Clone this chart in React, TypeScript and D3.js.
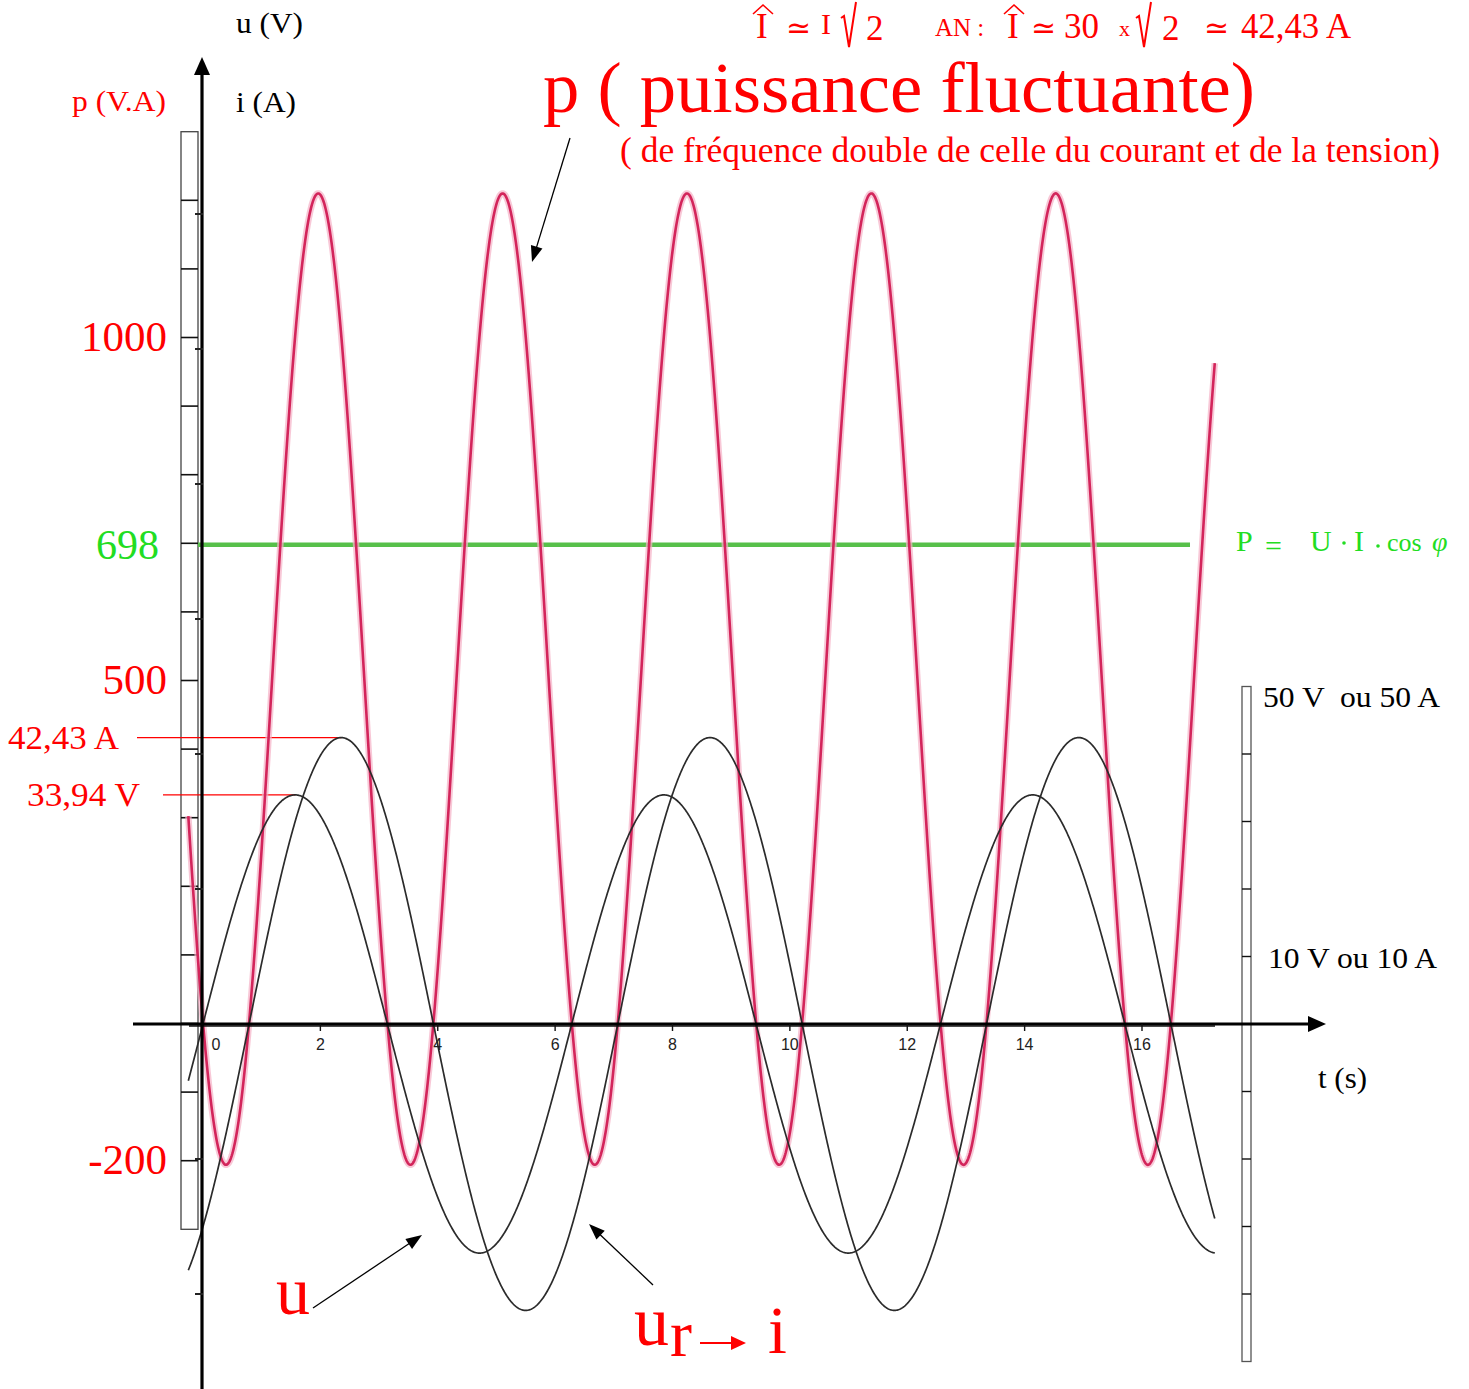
import React from "react";
import * as d3 from "d3";

// time axis graduations (s)
const tTicks = [0, 2, 4, 6, 8, 10, 12, 14, 16];
// power axis labels (V.A)
const pTickLabels = [1000, 500, -200];
const pAverage = 698;
// left ruler: one division = 100 V.A
const pRulerMin = -300;
const pRulerMax = 1300;
// right ruler: one division = 10 V or 10 A
const uiRulerMin = -50;
const uiRulerMax = 50;
// small ticks on the vertical axis, every 20 V / 20 A
const uiAxisTicks = [-40, -20, 20, 40, 60, 80, 100, 120];

// sinusoids (pulsation 1 rad/s)
const waveNames = ["u", "i"];
const waveAmplitudes = [33.94, 42.43];
const wavePhases = [0, 0.785];
const waveUnits = ["V", "A"];
// fluctuating power p = pMean - pAmplitude * cos(2t - phi)
const pMean = 502;
const pAmplitude = 708;
const pPhase = 0.785;
const tStart = -0.25;
const tEnd = 17.25;

const RED = "#ff0000";
const GREEN = "#22dd22";
const SERIF = "'Liberation Serif', 'DejaVu Serif', serif";
const SANS = "'Liberation Sans', Arial, sans-serif";

const W = 1469;
const H = 1389;

// arrow line ending with a filled triangle
const arrowHead = (x1: number, y1: number, x2: number, y2: number, len = 16, half = 6) => {
  const a = Math.atan2(y2 - y1, x2 - x1);
  const bx = x2 - len * Math.cos(a);
  const by = y2 - len * Math.sin(a);
  const nx = -Math.sin(a) * half;
  const ny = Math.cos(a) * half;
  return `M${x2},${y2}L${bx + nx},${by + ny}L${bx - nx},${by - ny}Z`;
};

const Arrow = ({ x1, y1, x2, y2, color = "#000", width = 1.3, len = 16, half = 6 }: any) => {
  const a = Math.atan2(y2 - y1, x2 - x1);
  return (
    <g>
      <line x1={x1} y1={y1} x2={x2 - (len - 2) * Math.cos(a)} y2={y2 - (len - 2) * Math.sin(a)} stroke={color} strokeWidth={width} />
      <path d={arrowHead(x1, y1, x2, y2, len, half)} fill={color} />
    </g>
  );
};

const Sqrt = ({ x, top, bottom }: any) => (
  <path
    d={`M${x},${top + 16}L${x + 3},${top + 14}L${x + 8},${bottom}L${x + 15},${top}`}
    fill="none"
    stroke={RED}
    strokeWidth={2}
  />
);

const Hat = ({ x, y }: any) => (
  <path d={`M${x},${y + 9}L${x + 10},${y}L${x + 20},${y + 9}`} fill="none" stroke={RED} strokeWidth={1.6} />
);

export default function App() {
  const x = d3.scaleLinear().domain([0, 16]).range([203, 1142]);
  const yP = d3.scaleLinear().domain([0, 1000]).range([1023.5, 337.5]);
  const yU = d3.scaleLinear().domain([0, 50]).range([1024, 686.5]);

  const ts = d3.range(tStart, tEnd, 0.01);

  const wavePaths = waveNames.map((_, k) =>
    d3
      .line<number>()
      .x((t) => x(t))
      .y((t) => yU(waveAmplitudes[k] * Math.sin(t - wavePhases[k])))(ts)
  );
  const pPath = d3
    .line<number>()
    .x((t) => x(t))
    .y((t) => yP(pMean - pAmplitude * Math.cos(2 * t - pPhase)))(ts);

  const axisY = yU(0);
  const fmt = (v: number) => v.toFixed(2).replace(".", ",");
  const guideStart = [163, 137];
  const guideLabelX = [27, 8];
  const guideLabelW = [113, 111];

  return (
    <svg width={W} height={H} style={{ position: "absolute", left: 0, top: 0, background: "#fff" }}>
      {/* left ruler (p scale) */}
      <rect x={181} y={yP(pRulerMax)} width={17} height={yP(pRulerMin) - yP(pRulerMax)} fill="#fff" stroke="#444" strokeWidth={1.3} />
      {d3.range(pRulerMin + 100, pRulerMax, 100).map((v) => (
        <line key={v} x1={181} x2={198} y1={yP(v)} y2={yP(v)} stroke="#111" strokeWidth={1.6} />
      ))}

      {/* right ruler (u / i scale) */}
      <rect x={1242} y={yU(uiRulerMax)} width={9} height={yU(uiRulerMin) - yU(uiRulerMax)} fill="#fff" stroke="#555" strokeWidth={1.3} />
      {d3.range(uiRulerMin + 10, uiRulerMax, 10).map((v) => (
        <line key={v} x1={1242} x2={1251} y1={yU(v)} y2={yU(v)} stroke="#111" strokeWidth={1.4} />
      ))}

      {/* average power */}
      <line x1={198} x2={1190} y1={yP(pAverage)} y2={yP(pAverage)} stroke="#57c04a" strokeWidth={4.5} />

      {/* peak guides */}
      {waveNames.map((n, k) => (
        <g key={n}>
          <line
            x1={guideStart[k]}
            x2={x(wavePhases[k] + Math.PI / 2)}
            y1={yU(waveAmplitudes[k])}
            y2={yU(waveAmplitudes[k])}
            stroke={RED}
            strokeWidth={1.2}
          />
          <text
            x={guideLabelX[k]}
            y={yU(waveAmplitudes[k]) + 11.5}
            fontFamily={SERIF}
            fontSize={34}
            fill={RED}
            textLength={guideLabelW[k]}
            lengthAdjust="spacingAndGlyphs"
          >
            {fmt(waveAmplitudes[k])} {waveUnits[k]}
          </text>
        </g>
      ))}

      {/* curves */}
      <path d={pPath || ""} fill="none" stroke="#f5b0c6" strokeWidth={6.5} strokeOpacity={0.7} />
      <path d={pPath || ""} fill="none" stroke="#d3255b" strokeWidth={2.6} />
      {wavePaths.map((d, k) => (
        <path key={k} d={d || ""} fill="none" stroke="#2b2b2b" strokeWidth={1.7} />
      ))}

      {/* x axis */}
      <line x1={189} x2={1215} y1={axisY + 2} y2={axisY + 2} stroke="#111" strokeWidth={1.6} />
      <line x1={133} x2={1312} y1={axisY} y2={axisY} stroke="#000" strokeWidth={3.2} />
      <path d={arrowHead(1200, axisY, 1326, axisY, 18, 8)} fill="#000" />
      {tTicks.map((t) => (
        <g key={t}>
          {t !== 0 && <line x1={x(t)} x2={x(t)} y1={axisY} y2={axisY + 7} stroke="#111" strokeWidth={1.4} />}
          <text
            x={t === 0 ? x(t) + 13 : x(t)}
            y={axisY + 26}
            textAnchor="middle"
            fontFamily={SANS}
            fontSize={16}
            fill="#222"
          >
            {t}
          </text>
        </g>
      ))}

      {/* y axis */}
      <line x1={202} x2={202} y1={H} y2={70} stroke="#000" strokeWidth={3.2} />
      <path d={arrowHead(202, 300, 202, 57, 18, 8)} fill="#000" />
      {uiAxisTicks.map((v) => (
        <line key={v} x1={195} x2={203} y1={yU(v)} y2={yU(v)} stroke="#222" strokeWidth={2} />
      ))}

      {/* axis titles */}
      <text x={236} y={33} fontFamily={SERIF} fontSize={30} fill="#000" textLength={67} lengthAdjust="spacingAndGlyphs">u (V)</text>
      <text x={236} y={112} fontFamily={SERIF} fontSize={30} fill="#000" textLength={60} lengthAdjust="spacingAndGlyphs">i (A)</text>
      <text x={72} y={111} fontFamily={SERIF} fontSize={30} fill={RED} textLength={94} lengthAdjust="spacingAndGlyphs">p (V.A)</text>
      <text x={1318} y={1088} fontFamily={SERIF} fontSize={30} fill="#000" textLength={49} lengthAdjust="spacingAndGlyphs">t (s)</text>

      {/* p labels */}
      {pTickLabels.map((v) => (
        <text key={v} x={167} y={yP(v) + 13} textAnchor="end" fontFamily={SERIF} fontSize={43} fill={RED}>
          {v}
        </text>
      ))}
      <text x={159} y={yP(pAverage) + 14} textAnchor="end" fontFamily={SERIF} fontSize={42} fill={GREEN}>
        {pAverage}
      </text>

      {/* right ruler labels */}
      <text
        x={1263}
        y={yU(uiRulerMax) + 20}
        fontFamily={SERIF}
        fontSize={30}
        fill="#000"
        style={{ whiteSpace: "pre" }}
        textLength={177}
        lengthAdjust="spacingAndGlyphs"
      >
        50 V  ou 50 A
      </text>
      <text x={1268} y={yU(10) + 11} fontFamily={SERIF} fontSize={30} fill="#000" textLength={169} lengthAdjust="spacingAndGlyphs">
        10 V ou 10 A
      </text>

      {/* P = U.I.cos phi */}
      <g fontFamily={SERIF} fill={GREEN}>
        <text x={1236} y={551} fontSize={30}>P</text>
        <text x={1265} y={556} fontSize={30}>=</text>
        <text x={1310} y={551} fontSize={30}>U</text>
        <circle cx={1344} cy={543} r={1.8} />
        <text x={1354} y={551} fontSize={30}>I</text>
        <circle cx={1378} cy={546} r={1.8} />
        <text x={1387} y={551} fontSize={26}>cos</text>
        <text x={1432} y={551} fontSize={28} fontStyle="italic">φ</text>
      </g>

      {/* title */}
      <text x={543} y={112} fontFamily={SERIF} fontSize={72} fill={RED} textLength={712} lengthAdjust="spacingAndGlyphs">
        p ( puissance fluctuante)
      </text>
      <text x={620} y={162} fontFamily={SERIF} fontSize={35} fill={RED} textLength={820} lengthAdjust="spacingAndGlyphs">
        ( de fréquence double de celle du courant et de la tension)
      </text>
      <Arrow x1={570} y1={138} x2={532} y2={262} />

      {/* amplitude formula */}
      <g fontFamily={SERIF} fill={RED}>
        <Hat x={753} y={5} />
        <text x={756} y={38} fontSize={35}>I</text>
        <text x={786} y={38} fontSize={30}>≃</text>
        <text x={821} y={34} fontSize={30}>I</text>
        <Sqrt x={841} top={2} bottom={47} />
        <text x={866} y={40} fontSize={35}>2</text>
        <text x={935} y={36} fontSize={25}>AN :</text>
        <Hat x={1004} y={5} />
        <text x={1007} y={38} fontSize={35}>I</text>
        <text x={1031} y={38} fontSize={30}>≃</text>
        <text x={1064} y={38} fontSize={35}>30</text>
        <text x={1119} y={36} fontSize={22}>x</text>
        <Sqrt x={1136} top={2} bottom={47} />
        <text x={1162} y={40} fontSize={35}>2</text>
        <text x={1204} y={38} fontSize={30}>≃</text>
        <text x={1241} y={38} fontSize={35} textLength={110} lengthAdjust="spacingAndGlyphs">42,43 A</text>
      </g>

      {/* curve names */}
      <text x={276} y={1314} fontFamily={SERIF} fontSize={68} fill={RED}>u</text>
      <Arrow x1={313} y1={1308} x2={422} y2={1235} />
      <text x={634} y={1345} fontFamily={SERIF} fontSize={70} fill={RED}>u</text>
      <text x={670} y={1356} fontFamily={SERIF} fontSize={66} fill={RED}>r</text>
      <Arrow x1={700} y1={1343} x2={746} y2={1343} color={RED} width={2} len={15} half={7} />
      <text x={768} y={1353} fontFamily={SERIF} fontSize={68} fill={RED}>i</text>
      <Arrow x1={653} y1={1285} x2={589} y2={1224} />
    </svg>
  );
}
